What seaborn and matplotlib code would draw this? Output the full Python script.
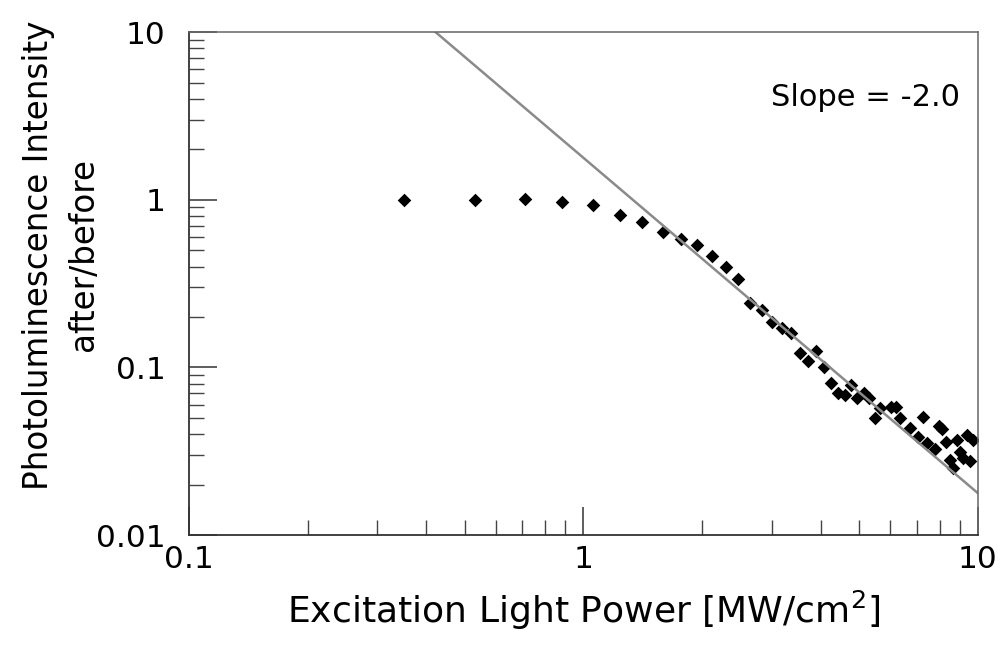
import numpy as np
import pandas as pd
import seaborn as sns
import matplotlib
matplotlib.use("Agg")
import matplotlib.pyplot as plt
from matplotlib.ticker import LogLocator, FixedLocator, FixedFormatter, NullFormatter

# measured points (excitation power in MW/cm2, PL ratio after/before)
power = [0.35, 0.53, 0.71, 0.88, 1.06, 1.24, 1.41, 1.59, 1.77, 1.94,
         2.12, 2.30, 2.47, 2.65, 2.83, 3.00, 3.18, 3.36, 3.54, 3.71,
         3.89, 4.07, 4.24, 4.42, 4.60, 4.77, 4.95, 5.13, 5.30, 5.48,
         5.66, 6.01, 6.19, 6.36, 6.72, 7.07, 7.25, 7.42, 7.78, 7.95,
         8.13, 8.31, 8.49, 8.66, 8.84, 9.02, 9.19, 9.37, 9.55, 9.72]
ratio = [1.00, 1.00, 1.01, 0.97, 0.934, 0.807, 0.733, 0.645, 0.581, 0.535,
         0.463, 0.398, 0.337, 0.243, 0.220, 0.186, 0.172, 0.161, 0.122, 0.110,
         0.125, 0.101, 0.0813, 0.0706, 0.0685, 0.0786, 0.0654, 0.0701, 0.0654, 0.0501,
         0.0570, 0.0583, 0.0583, 0.0497, 0.0433, 0.0386, 0.0508, 0.0353, 0.0326, 0.0450,
         0.0427, 0.0361, 0.0280, 0.0250, 0.0368, 0.0314, 0.0290, 0.0393, 0.0277, 0.0371]

# power-law guide line y = A * x^slope
fit_slope = -2.0
fit_prefactor = 1.78
fit_x = np.array([0.1, 10.0])

x_ticks = [0.1, 1, 10]
x_ticklabels = ["0.1", "1", "10"]
y_ticks = [0.01, 0.1, 1, 10]
y_ticklabels = ["0.01", "0.1", "1", "10"]

df = pd.DataFrame({"power": power, "ratio": ratio})
fit = pd.DataFrame({"power": fit_x, "ratio": fit_prefactor * fit_x ** fit_slope})

sns.set_theme(style="white")
plt.rcParams["font.family"] = ["DejaVu Sans"]
plt.rcParams["text.color"] = "black"
plt.rcParams["axes.labelcolor"] = "black"

fig = plt.figure(figsize=(10.05, 6.55), dpi=100)
ax = fig.add_axes([0.188, 0.183, 0.785, 0.768])

sns.lineplot(data=fit, x="power", y="ratio", ax=ax, color="#8a8a8a", lw=1.8)
sns.scatterplot(data=df, x="power", y="ratio", ax=ax, marker="D", s=48,
                color="black", edgecolor="black", linewidth=0)

ax.set_xscale("log")
ax.set_yscale("log")
ax.set_xlim(0.1, 10)
ax.set_ylim(0.01, 10)

ax.xaxis.set_major_locator(FixedLocator(x_ticks))
ax.xaxis.set_major_formatter(FixedFormatter(x_ticklabels))
ax.yaxis.set_major_locator(FixedLocator(y_ticks))
ax.yaxis.set_major_formatter(FixedFormatter(y_ticklabels))
ax.xaxis.set_minor_locator(LogLocator(base=10, subs=np.arange(2, 10)))
ax.yaxis.set_minor_locator(LogLocator(base=10, subs=np.arange(2, 10)))
ax.xaxis.set_minor_formatter(NullFormatter())
ax.yaxis.set_minor_formatter(NullFormatter())

ax.tick_params(which="major", direction="in", length=20, width=1.1,
               color="#333333", labelsize=22.5, left=True, bottom=True,
               top=False, right=False, labelcolor="black")
ax.tick_params(which="minor", direction="in", length=11, width=1.0,
               color="#444444", left=True, bottom=True, top=False, right=False)
ax.tick_params(axis="y", which="major", pad=17)
ax.tick_params(axis="x", which="major", pad=7)

for side in ["left", "bottom"]:
    ax.spines[side].set_color("#333333")
    ax.spines[side].set_linewidth(1.3)
for side in ["top", "right"]:
    ax.spines[side].set_color("#666666")
    ax.spines[side].set_linewidth(1.1)

ax.set_xlabel("Excitation Light Power [MW/cm$^2$]", fontsize=26, labelpad=11,
              color="black")
ax.set_ylabel("Photoluminescence Intensity\nafter/before", fontsize=23.5,
              linespacing=1.45, color="black")
ax.yaxis.set_label_coords(-0.113, 0.557)

ax.text(0.857, 0.869, "Slope = -2.0", transform=ax.transAxes,
        ha="center", va="center", fontsize=22, color="black")

fig.savefig("out.png", dpi=100)
